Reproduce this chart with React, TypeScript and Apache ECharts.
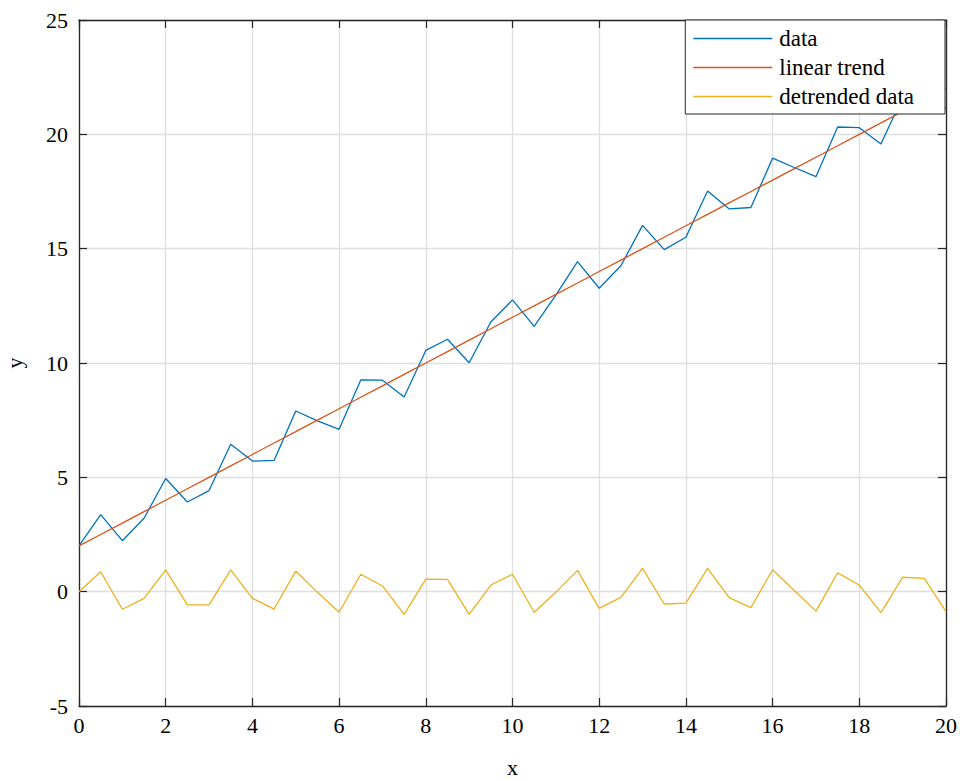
import React, { useEffect, useRef } from "react";
import * as echarts from "echarts";

const xValues = [0, 0.5, 1, 1.5, 2, 2.5, 3, 3.5, 4, 4.5, 5, 5.5, 6, 6.5, 7, 7.5, 8, 8.5, 9, 9.5, 10, 10.5, 11, 11.5, 12, 12.5, 13, 13.5, 14, 14.5, 15, 15.5, 16, 16.5, 17, 17.5, 18, 18.5, 19, 19.5, 20];
const dataValues = [2.0, 3.37, 2.23, 3.21, 4.95, 3.92, 4.42, 6.45, 5.71, 5.74, 7.9, 7.47, 7.1, 9.26, 9.25, 8.51, 10.55, 11.04, 10.01, 11.79, 12.76, 11.6, 12.97, 14.43, 13.27, 14.25, 16.02, 14.96, 15.5, 17.52, 16.74, 16.8, 18.96, 18.55, 18.15, 20.32, 20.29, 19.58, 21.63, 22.08, 21.13];
const trendValues = [2, 2.5, 3, 3.5, 4, 4.5, 5, 5.5, 6, 6.5, 7, 7.5, 8, 8.5, 9, 9.5, 10, 10.5, 11, 11.5, 12, 12.5, 13, 13.5, 14, 14.5, 15, 15.5, 16, 16.5, 17, 17.5, 18, 18.5, 19, 19.5, 20, 20.5, 21, 21.5, 22];
const detrendedValues = [0, 0.87, -0.77, -0.29, 0.95, -0.58, -0.58, 0.95, -0.29, -0.76, 0.9, -0.03, -0.9, 0.76, 0.25, -0.99, 0.55, 0.54, -0.99, 0.29, 0.76, -0.9, -0.03, 0.93, -0.73, -0.25, 1.02, -0.54, -0.5, 1.02, -0.26, -0.7, 0.96, 0.05, -0.85, 0.82, 0.29, -0.92, 0.63, 0.58, -0.87];
const seriesNames = ["data", "linear trend", "detrended data"];

const FONT = "Liberation Serif";
const AXIS_COLOR = "#262626";
const GRID_COLOR = "#dfdfdf";

export default function App() {
  const ref = useRef<HTMLDivElement>(null);
  useEffect(() => {
    document.body.style.margin = "0";
    if (!ref.current) return;
    const chart = echarts.init(ref.current, null, { renderer: "svg" });
    const pair = (ys: number[]) => xValues.map((x, i) => [x, ys[i]]);
    const tickStyle = { show: true, inside: true, length: 8, lineStyle: { color: AXIS_COLOR, width: 1.2 } };
    const lineStyleAxis = { show: true, onZero: false, lineStyle: { color: AXIS_COLOR, width: 1.3 } };
    chart.setOption({
      animation: false,
      backgroundColor: "#ffffff",
      grid: { left: 79, right: 17, top: 20, bottom: 75, containLabel: false, outerBoundsMode: "none" },
      legend: {
        data: seriesNames,
        orient: "vertical",
        right: 18,
        top: 20,
        backgroundColor: "#ffffff",
        borderColor: AXIS_COLOR,
        borderWidth: 1,
        borderRadius: 0,
        padding: [7, 31, 6, 8],
        icon: "rect",
        itemWidth: 79,
        itemHeight: 1.3,
        itemGap: 6,
        textStyle: { fontFamily: FONT, fontSize: 23, color: "#000", padding: [0, 0, 0, 2] },
        selectedMode: false,
      },
      xAxis: [
        {
          type: "value",
          min: 0,
          max: 20,
          interval: 2,
          name: "x",
          nameLocation: "middle",
          nameGap: 50,
          nameTextStyle: { fontFamily: FONT, fontSize: 22, color: "#000" },
          axisLine: lineStyleAxis,
          axisTick: tickStyle,
          axisLabel: { fontFamily: FONT, fontSize: 22, color: "#000", margin: 8 },
          splitLine: { show: true, lineStyle: { color: GRID_COLOR, width: 1.3 } },
        },
        {
          type: "value",
          position: "top",
          min: 0,
          max: 20,
          interval: 2,
          axisLine: lineStyleAxis,
          axisTick: tickStyle,
          axisLabel: { show: false },
          splitLine: { show: false },
        },
      ],
      yAxis: [
        {
          type: "value",
          min: -5,
          max: 25,
          interval: 5,
          name: "y",
          nameLocation: "middle",
          nameGap: 54,
          nameTextStyle: { fontFamily: FONT, fontSize: 22, color: "#000" },
          axisLine: lineStyleAxis,
          axisTick: tickStyle,
          axisLabel: { fontFamily: FONT, fontSize: 22, color: "#000", margin: 11 },
          splitLine: { show: true, lineStyle: { color: GRID_COLOR, width: 1.3 } },
        },
        {
          type: "value",
          position: "right",
          min: -5,
          max: 25,
          interval: 5,
          axisLine: lineStyleAxis,
          axisTick: tickStyle,
          axisLabel: { show: false },
          splitLine: { show: false },
        },
      ],
      series: [
        {
          name: seriesNames[0],
          type: "line",
          data: pair(dataValues),
          symbol: "none",
          lineStyle: { color: "#0072BD", width: 1.3 },
          itemStyle: { color: "#0072BD" },
        },
        {
          name: seriesNames[1],
          type: "line",
          data: pair(trendValues),
          symbol: "none",
          lineStyle: { color: "#D95319", width: 1.3 },
          itemStyle: { color: "#D95319" },
        },
        {
          name: seriesNames[2],
          type: "line",
          data: pair(detrendedValues),
          symbol: "none",
          lineStyle: { color: "#EDB120", width: 1.3 },
          itemStyle: { color: "#EDB120" },
        },
      ],
    });
    return () => chart.dispose();
  }, []);
  return <div ref={ref} style={{ width: 963, height: 781 }} />;
}
